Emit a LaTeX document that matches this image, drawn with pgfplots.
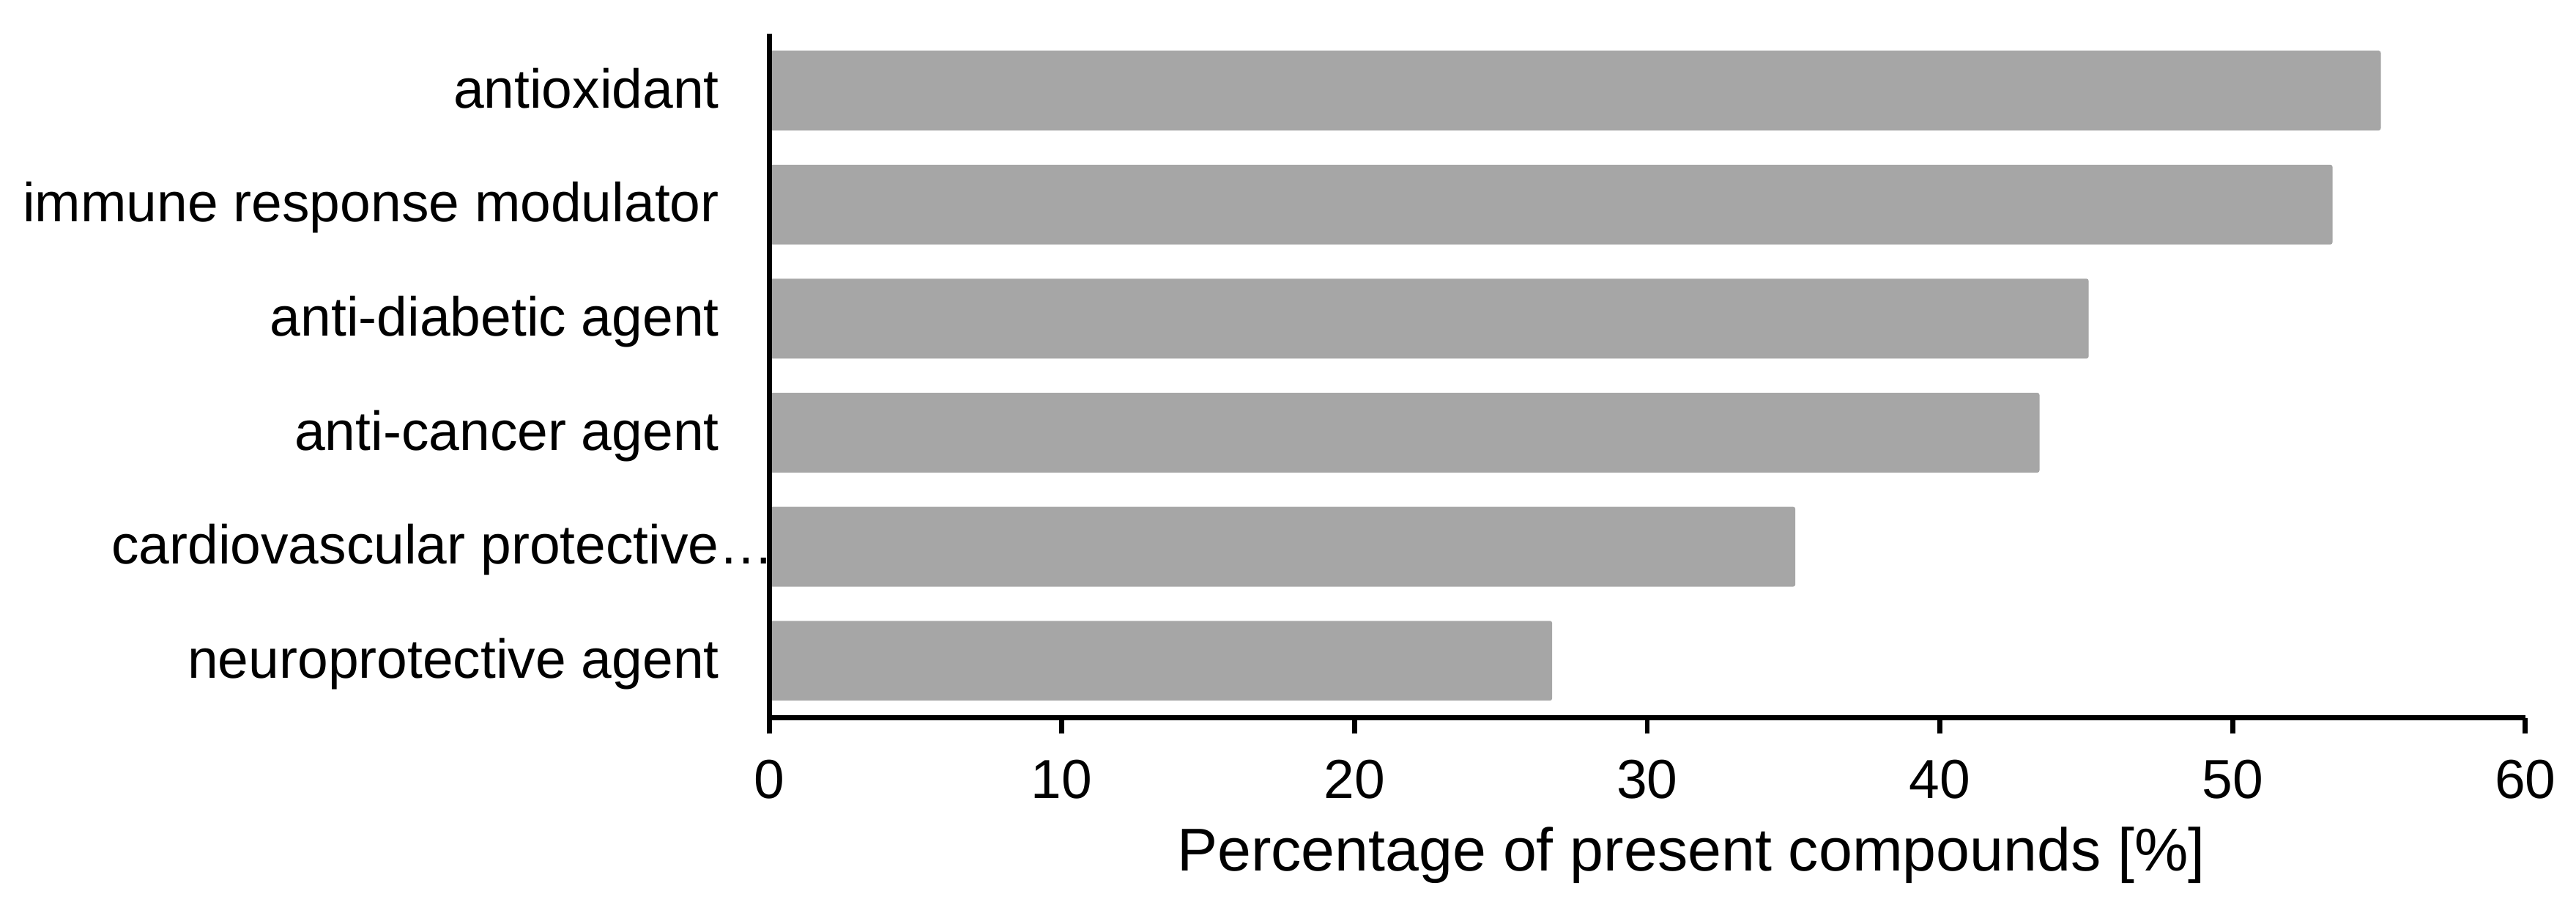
\documentclass[border=0pt]{standalone}
\usepackage{fontspec}
\setmainfont{Liberation Sans}
\usepackage{pgfplots}
\pgfplotsset{compat=1.18}
\definecolor{bargray}{RGB}{166,166,166}

\begin{document}
\begin{tikzpicture}
    % frame of the whole picture (reference margins)
    \path[use as bounding box] (-140pt,-37.5pt) rectangle (328.9pt,130.6pt);
    \begin{axis}[
        at={(0,0)}, anchor=south west,
        scale only axis,
        width=319.7pt,
        height=124.5pt,
        xbar,
        bar width=0.7,
        xmin=0, xmax=60,
        ymin=0.5, ymax=6.5,
        xtick={0,10,20,30,40,50,60},
        ytick={1,2,3,4,5,6},
        yticklabels={neuroprotective agent, cardiovascular protective\rlap{\ldots}, anti-cancer agent, anti-diabetic agent, immune response modulator, antioxidant},
        axis x line=bottom,
        axis y line=left,
        axis line style={-, line width=0.93pt, black},
        tick align=outside,
        major tick length=2.9pt,
        xtick style={line width=0.93pt, black},
        ytick style={draw=none},
        axis on top,
        /pgf/number format/assume math mode=true,
        tick label style={font=\fontsize{10}{12}\selectfont},
        xticklabel style={yshift=-1.3pt},
        yticklabel style={anchor=base east, inner sep=0pt, yshift=-3.15pt, xshift=-6pt},
        xlabel={Percentage of present compounds [\%]},
        xlabel style={font=\fontsize{11}{13}\selectfont, at={(axis description cs:0.5,0)}, anchor=base, yshift=-27.9pt, xshift=8pt},
    ]
    \addplot[fill=bargray, draw=none, rounded corners=0.4pt] coordinates {
        (26.75,1) (35.06,2) (43.40,3) (45.08,4) (53.41,5) (55.06,6)
    };
    \end{axis}
\end{tikzpicture}
\end{document}
